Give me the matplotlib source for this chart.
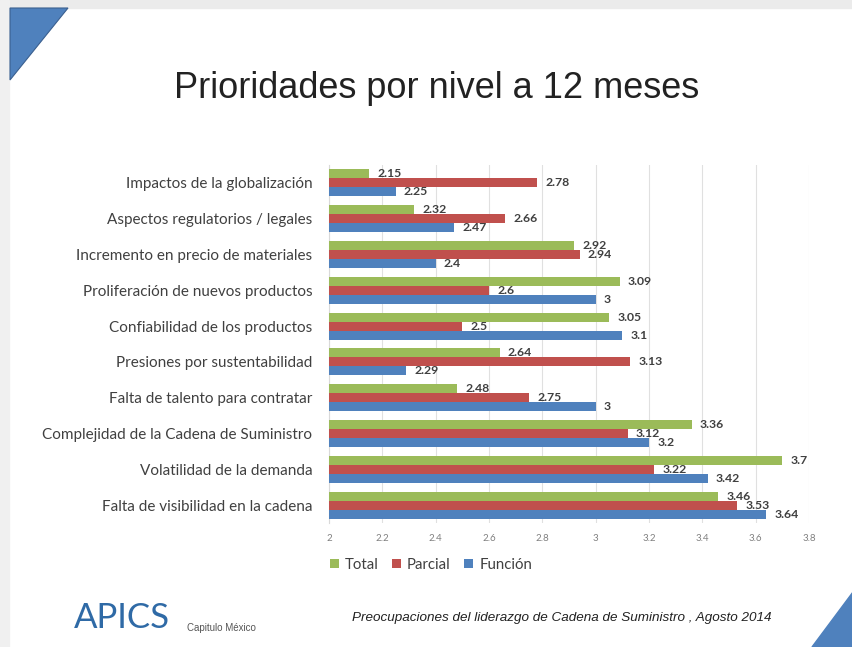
import matplotlib
matplotlib.use("Agg")
import matplotlib.pyplot as plt
from matplotlib.patches import Polygon, Rectangle, Arc
import numpy as np

categories = [
    "Impactos de la globalización",
    "Aspectos regulatorios / legales",
    "Incremento en precio de materiales",
    "Proliferación de nuevos productos",
    "Confiabilidad de los productos",
    "Presiones por sustentabilidad",
    "Falta de talento para contratar",
    "Complejidad de la Cadena de Suministro",
    "Volatilidad de la demanda",
    "Falta de visibilidad en la cadena",
]
total = [2.15, 2.32, 2.92, 3.09, 3.05, 2.64, 2.48, 3.36, 3.7, 3.46]
parcial = [2.78, 2.66, 2.94, 2.6, 2.5, 3.13, 2.75, 3.12, 3.22, 3.53]
funcion = [2.25, 2.47, 2.4, 3, 3.1, 2.29, 3, 3.2, 3.42, 3.64]
series_names = ["Total", "Parcial", "Función"]
xticks = [2, 2.2, 2.4, 2.6, 2.8, 3, 3.2, 3.4, 3.6, 3.8]
xtick_labels = ["2", "2.2", "2.4", "2.6", "2.8", "3", "3.2", "3.4", "3.6", "3.8"]

colors = ["#9BBB59", "#C0504D", "#4F81BD"]
W, H = 853, 647
fig = plt.figure(figsize=(W / 100, H / 100), dpi=100)
fig.patch.set_facecolor("white")

# slide decorations
bg = fig.add_axes([0, 0, 1, 1], zorder=-5)
bg.set_xlim(0, W); bg.set_ylim(H, 0); bg.axis("off")
bg.add_patch(Rectangle((0, 0), W, 8, color="#ebebeb"))
bg.add_patch(Rectangle((0, 0), 9, H, color="#f0f0f0"))
bg.add_patch(Polygon([(10, 8), (68, 8), (10, 80)], closed=True, color="#4F81BD", ec="#3a5f8f", lw=0.8))
bg.add_patch(Polygon([(812, 647), (853, 592), (853, 647)], closed=True, color="#4F81BD"))
bg.text(437, 88, "Prioridades por nivel a 12 meses", fontsize=26, family="Liberation Sans",
        color="#222222", ha="center", va="center")
bg.text(352, 618, "Preocupaciones del liderazgo de Cadena de Suministro , Agosto 2014",
        fontsize=9.7, style="italic", family="Liberation Sans", color="#222222", va="center")
bg.text(74, 618, "APICS", fontsize=25, family="Lato", fontweight="normal", color="#2f6aa6", va="center")
bg.text(187, 628, "Capitulo México", fontsize=7, family="Liberation Sans", color="#555555", va="center")
bg.add_patch(Arc((140, 640), 150, 90, theta1=60, theta2=118, color="#2f6aa6", lw=0.8))

ax = fig.add_axes([329 / W, 1 - 523 / H, 480 / W, 358 / H])
n = len(categories)
y = np.arange(n)
bh = 0.25
for i, (vals, c, name) in enumerate(zip([total, parcial, funcion], colors, series_names)):
    pos = y + (i - 1) * bh
    ax.barh(pos, np.array(vals) - 2, left=2, height=bh, color=c, label=name, zorder=3)
    for p, v in zip(pos, vals):
        ax.annotate(f"{v:g}", (v, p), xytext=(6, 0), textcoords="offset points",
                    va="center", ha="left", fontsize=8.8, fontweight="bold",
                    family="Lato", color="#404040", zorder=4)

ax.set_ylim(n - 0.5, -0.5)
ax.set_xlim(2, 3.8)
ax.set_xticks(xticks)
ax.set_xticklabels(xtick_labels, fontsize=7, color="#808080", family="Lato")
ax.set_yticks(y)
ax.set_yticklabels(categories, fontsize=11, color="#404040", family="Lato")
ax.tick_params(axis="both", length=0, pad=8)
ax.tick_params(axis="y", pad=12)
ax.grid(axis="x", color="#e0e0e0", lw=0.8, zorder=0)
for s in ["top", "right", "bottom"]:
    ax.spines[s].set_visible(False)
ax.spines["left"].set_color("#d9d9d9")

leg = ax.legend(loc="upper left", bbox_to_anchor=(-0.027, -0.06), ncol=3, frameon=False,
                prop={"family": "Lato", "size": 10.8}, handlelength=0.6, handleheight=0.6,
                handletextpad=0.4, columnspacing=0.9)
for t in leg.get_texts():
    t.set_color("#404040")

fig.savefig("out.png", dpi=100)
